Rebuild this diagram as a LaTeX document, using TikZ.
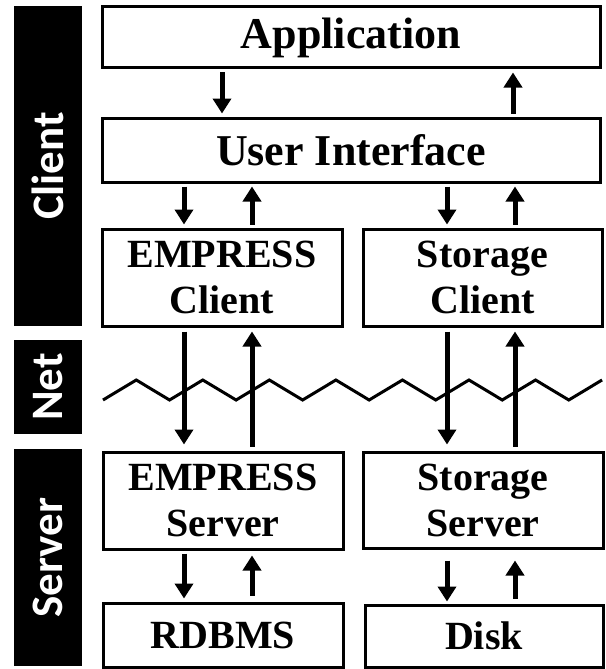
\documentclass[tikz,border=0pt]{standalone}
\usepackage{fontspec}
\setmainfont{Liberation Serif}
\newfontfamily\labfont{Carlito}
\usetikzlibrary{arrows.meta}
\tikzset{
  box/.style={draw=black, line width=3pt, inner sep=0pt, align=center,
    font=\bfseries\fontsize{40}{46}\selectfont},
  bigbox/.style={box, font=\bfseries\fontsize{44}{50}\selectfont},
  arr/.style={line width=5pt, -{Triangle[width=18pt,length=15pt]}, shorten <=3pt, shorten >=3pt},
  lab/.style={fill=black, text=white, rotate=90, inner sep=0pt,
    font=\labfont\bfseries\fontsize{45}{50}\selectfont},
  zig/.style={line width=3pt, line join=miter}
}
\begin{document}
\begin{tikzpicture}[x=1pt,y=-1pt]
\useasboundingbox (0,0) rectangle (605,669);
% side labels
\node[lab, minimum width=320pt, minimum height=68pt] (lclient) at (48,166) {Client};
\node[lab, minimum width=94pt, minimum height=68pt] (lnet) at (48,387) {Net};
\node[lab, minimum width=217pt, minimum height=68pt] (lserver) at (48,557.5) {Server};
% boxes
\node[bigbox, minimum width=498pt, minimum height=61pt] (app) at (351,37.5) {Application};
\node[bigbox, minimum width=498pt, minimum height=64pt] (ui) at (351,150) {User Interface};
\node[box, minimum width=240pt, minimum height=97pt] (ec) at (222,277.5) {EMPRESS\\Client};
\node[box, minimum width=239pt, minimum height=97pt] (sc) at (482.5,277.5) {Storage\\Client};
\node[box, minimum width=240pt, minimum height=97pt] (es) at (223,500.5) {EMPRESS\\Server};
\node[box, minimum width=240pt, minimum height=96pt] (ss) at (483,500) {Storage\\Server};
\node[box, minimum width=240pt, minimum height=64pt] (rd) at (223,635) {RDBMS};
\node[box, minimum width=238pt, minimum height=62pt] (dk) at (484,636) {Disk};
% network zigzag
\draw[zig] (103,400)
  \foreach \i in {1,...,15} {
    -- ({103+\i*33.27}, {390+10*cos(180*\i)})
  };
% x positions of arrows
\coordinate (xa) at (222,0);
\coordinate (xb) at (513,0);
\coordinate (xl1) at (184,0);
\coordinate (xl2) at (252,0);
\coordinate (xr1) at (447,0);
\coordinate (xr2) at (515,0);
% arrows
\draw[arr] (app.south -| xa) -- (ui.north -| xa);
\draw[arr] (ui.north -| xb) -- (app.south -| xb);
\draw[arr] (ui.south -| xl1) -- (ec.north -| xl1);
\draw[arr] (ec.north -| xl2) -- (ui.south -| xl2);
\draw[arr] (ui.south -| xr1) -- (sc.north -| xr1);
\draw[arr] (sc.north -| xr2) -- (ui.south -| xr2);
\draw[arr, shorten <=4pt, shorten >=6pt] (ec.south -| xl1) -- (es.north -| xl1);
\draw[arr, shorten <=4pt, shorten >=4pt] (es.north -| xl2) -- (ec.south -| xl2);
\draw[arr, shorten <=4pt, shorten >=6pt] (sc.south -| xr1) -- (ss.north -| xr1);
\draw[arr, shorten <=4pt, shorten >=4pt] (ss.north -| xr2) -- (sc.south -| xr2);
\draw[arr] (es.south -| xl1) -- (rd.north -| xl1);
\draw[arr, shorten <=6pt, shorten >=5pt] (rd.north -| xl2) -- (es.south -| xl2);
\draw[arr, shorten <=11pt, shorten >=2pt] (ss.south -| xr1) -- (dk.north -| xr1);
\draw[arr, shorten <=5pt, shorten >=11pt] (dk.north -| xr2) -- (ss.south -| xr2);
\end{tikzpicture}
\end{document}
